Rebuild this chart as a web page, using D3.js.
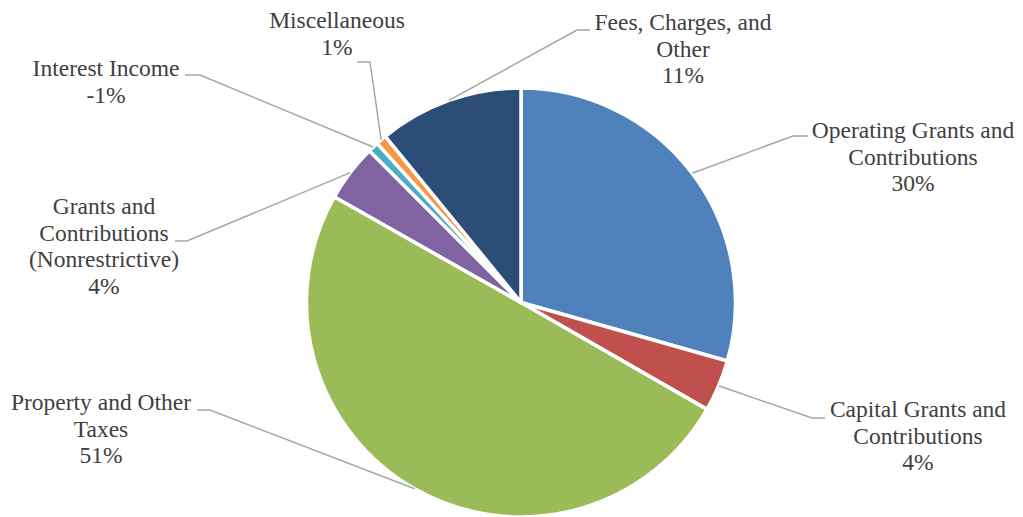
<!DOCTYPE html>
<html>
<head>
<meta charset="utf-8">
<script src="https://cdnjs.cloudflare.com/ajax/libs/d3/7.8.5/d3.min.js"></script>
<style>
  html, body { margin: 0; padding: 0; background: #fff; }
  svg { display: block; }
  .lbl { font-family: "Liberation Serif", "Times New Roman", serif; }
</style>
</head>
<body>
<svg id="chart"></svg>
<script>
// revenue sources, clockwise from 12 o'clock
var categories = [
  "Operating Grants and Contributions",
  "Capital Grants and Contributions",
  "Property and Other Taxes",
  "Grants and Contributions (Nonrestrictive)",
  "Interest Income",
  "Miscellaneous",
  "Fees, Charges, and Other"
];
var values = [29.4, 3.9, 49.9, 4.3, -0.8, 0.8, 10.9];
var colors = ["#4f81bd", "#c0504d", "#9bbb59", "#8064a2", "#4bacc6", "#f79646", "#2c4d75"];

// how each category label wraps
var labelLines = [
  ["Operating Grants and", "Contributions"],
  ["Capital Grants and", "Contributions"],
  ["Property and Other", "Taxes"],
  ["Grants and", "Contributions", "(Nonrestrictive)"],
  ["Interest Income"],
  ["Miscellaneous"],
  ["Fees, Charges, and", "Other"]
];

// label placement: text centre x, first baseline y, leader elbow (ex,ey) and end x (lx)
var labelLayout = [
  {x: 913, y: 138, ex: 793, ey: 136, lx: 808},
  {x: 918, y: 417, ex: 812, ey: 418, lx: 825},
  {x: 101, y: 410, ex: 210, ey: 410, lx: 197},
  {x: 104, y: 214, ex: 187, ey: 241, lx: 175},
  {x: 106, y: 76,  ex: 200, ey: 75,  lx: 185},
  {x: 337, y: 28,  ex: 370, ey: 62,  lx: 357},
  {x: 683, y: 30,  ex: 577, ey: 30,  lx: 590}
];

var width = 1023, height = 517;
var cx = 521, cy = 302.5, radius = 214.5;
var lineH = 26.7;

var svg = d3.select("#chart").attr("width", width).attr("height", height);

var total = d3.sum(values);
var data = categories.map(function(c, i) {
  return {name: c, value: values[i], color: colors[i], lines: labelLines[i], pos: labelLayout[i]};
});

var pie = d3.pie()
  .sort(null)
  .value(function(d) { return Math.abs(d.value); });

var arc = d3.arc().innerRadius(0).outerRadius(radius);

var g = svg.append("g").attr("transform", "translate(" + cx + "," + cy + ")");
var arcs = pie(data);

g.selectAll("path.slice")
  .data(arcs)
  .enter().append("path")
  .attr("class", "slice")
  .attr("d", arc)
  .attr("fill", function(d) { return d.data.color; })
  .attr("stroke", "#fff")
  .attr("stroke-width", 3.5)
  .attr("stroke-linejoin", "round");

// leader lines
svg.selectAll("path.leader")
  .data(arcs)
  .enter().append("path")
  .attr("class", "leader")
  .attr("d", function(d) {
    var a = (d.startAngle + d.endAngle) / 2;
    var px = cx + radius * Math.sin(a);
    var py = cy - radius * Math.cos(a);
    var p = d.data.pos;
    return "M" + px + "," + py + "L" + p.ex + "," + p.ey + "L" + p.lx + "," + p.ey;
  })
  .attr("fill", "none")
  .attr("stroke", "#a6a6a6")
  .attr("stroke-width", 1.5);

// labels
var labels = svg.selectAll("text.lbl")
  .data(arcs)
  .enter().append("text")
  .attr("class", "lbl")
  .attr("text-anchor", "middle")
  .attr("font-size", 23.5)
  .attr("fill", "#404040");

labels.each(function(d) {
  var t = d3.select(this);
  var lines = d.data.lines.concat([Math.round(d.data.value / total * 100) + "%"]);
  lines.forEach(function(s, i) {
    t.append("tspan")
      .attr("x", d.data.pos.x)
      .attr("y", d.data.pos.y + i * lineH)
      .text(s);
  });
});
</script>
</body>
</html>
